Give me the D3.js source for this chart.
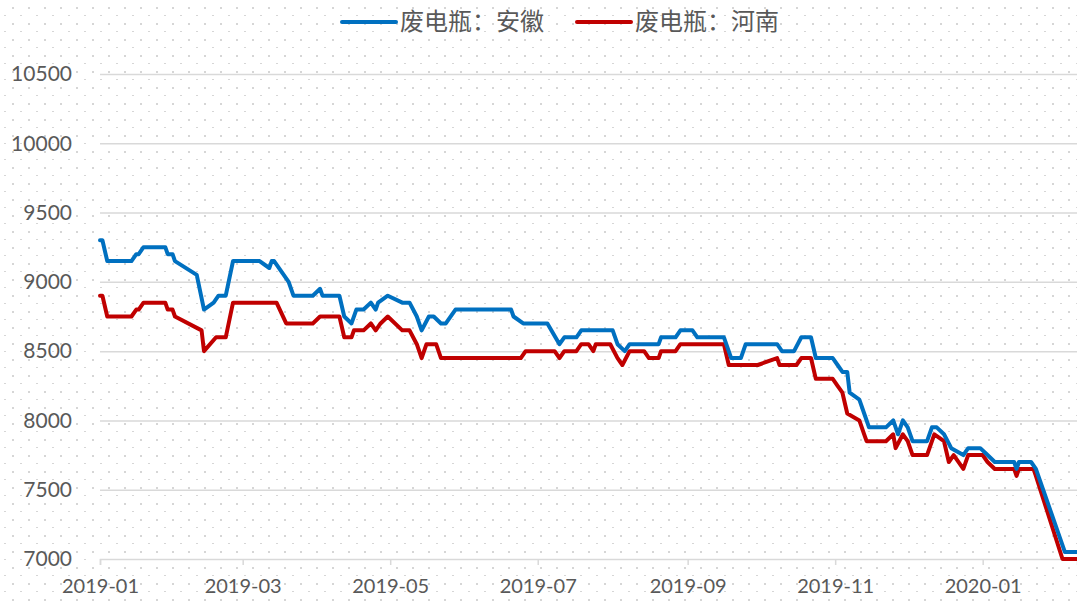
<!DOCTYPE html>
<html>
<head>
<meta charset="utf-8">
<script src="https://cdn.jsdelivr.net/npm/d3@7"></script>
<style>
  html, body { margin: 0; padding: 0; background: #fff; }
  svg { display: block; }
  .tick-label { font-family: Lato, "Liberation Sans", sans-serif; fill: #595959; }
  .legend-text { font-family: "Noto Sans CJK SC", sans-serif; fill: #595959; }
</style>
</head>
<body>
<svg id="chart"></svg>
<script>
// ── DATA ─────────────────────────────────────────────────────────────────
const seriesNames = ["废电瓶：安徽", "废电瓶：河南"];

const anhuiDates = [
  "2019-01-01","2019-01-02","2019-01-04","2019-01-14","2019-01-16","2019-01-17","2019-01-19","2019-01-28",
  "2019-01-29","2019-01-31","2019-02-01","2019-02-10","2019-02-13","2019-02-17","2019-02-19","2019-02-22",
  "2019-02-25","2019-03-08","2019-03-12","2019-03-13","2019-03-14","2019-03-20","2019-03-22","2019-03-30",
  "2019-04-02","2019-04-03","2019-04-10","2019-04-12","2019-04-15","2019-04-17","2019-04-20","2019-04-23",
  "2019-04-25","2019-04-26","2019-04-30","2019-05-06","2019-05-09","2019-05-12","2019-05-14","2019-05-17",
  "2019-05-19","2019-05-22","2019-05-24","2019-05-28","2019-06-20","2019-06-21","2019-06-25","2019-07-05",
  "2019-07-10","2019-07-12","2019-07-17","2019-07-19","2019-08-01","2019-08-03","2019-08-06","2019-08-08",
  "2019-08-20","2019-08-21","2019-08-27","2019-08-29","2019-09-03","2019-09-05","2019-09-16","2019-09-19",
  "2019-09-23","2019-09-25","2019-10-08","2019-10-10","2019-10-15","2019-10-18","2019-10-22","2019-10-24",
  "2019-10-31","2019-11-02","2019-11-04","2019-11-06","2019-11-07","2019-11-11","2019-11-13","2019-11-15",
  "2019-11-22","2019-11-25","2019-11-27","2019-11-29","2019-12-01","2019-12-03","2019-12-09","2019-12-11",
  "2019-12-13","2019-12-16","2019-12-19","2019-12-24","2019-12-26","2019-12-31","2020-01-03","2020-01-06",
  "2020-01-14","2020-01-15","2020-01-16","2020-01-21","2020-01-23","2020-02-04","2020-02-09"
];
const anhuiValues = [
  9300, 9300, 9150, 9150, 9200, 9200, 9250, 9250,
  9200, 9200, 9150, 9050, 8800, 8850, 8900, 8900,
  9150, 9150, 9100, 9150, 9150, 9000, 8900, 8900,
  8950, 8900, 8900, 8750, 8700, 8800, 8800, 8850,
  8800, 8850, 8900, 8850, 8850, 8750, 8650, 8750,
  8750, 8700, 8700, 8800, 8800, 8750, 8700, 8700,
  8550, 8600, 8600, 8650, 8650, 8550, 8500, 8550,
  8550, 8600, 8600, 8650, 8650, 8600, 8600, 8450,
  8450, 8550, 8550, 8500, 8500, 8600, 8600, 8450,
  8450, 8400, 8350, 8350, 8200, 8150, 8050, 7950,
  7950, 8000, 7900, 8000, 7950, 7850, 7850, 7950,
  7950, 7900, 7800, 7750, 7800, 7800, 7750, 7700,
  7700, 7650, 7700, 7700, 7650, 7050, 7050
];

const henanDates = [
  "2019-01-01","2019-01-02","2019-01-04","2019-01-14","2019-01-16","2019-01-17","2019-01-19","2019-01-28",
  "2019-01-29","2019-01-31","2019-02-01","2019-02-12","2019-02-13","2019-02-18","2019-02-22","2019-02-25",
  "2019-03-15","2019-03-19","2019-03-30","2019-04-02","2019-04-10","2019-04-12","2019-04-15","2019-04-16",
  "2019-04-20","2019-04-23","2019-04-25","2019-04-27","2019-04-30","2019-05-06","2019-05-09","2019-05-12",
  "2019-05-14","2019-05-16","2019-05-20","2019-05-22","2019-06-24","2019-06-26","2019-07-08","2019-07-10",
  "2019-07-12","2019-07-17","2019-07-19","2019-07-22","2019-07-24","2019-07-25","2019-07-31","2019-08-03",
  "2019-08-05","2019-08-08","2019-08-14","2019-08-16","2019-08-20","2019-08-21","2019-08-27","2019-08-29",
  "2019-09-16","2019-09-18","2019-09-30","2019-10-08","2019-10-09","2019-10-16","2019-10-18","2019-10-22",
  "2019-10-24","2019-10-31","2019-11-02","2019-11-04","2019-11-06","2019-11-11","2019-11-13","2019-11-14",
  "2019-11-22","2019-11-25","2019-11-26","2019-11-29","2019-12-01","2019-12-03","2019-12-09","2019-12-12",
  "2019-12-16","2019-12-18","2019-12-20","2019-12-24","2019-12-26","2020-01-01","2020-01-03","2020-01-06",
  "2020-01-14","2020-01-15","2020-01-16","2020-01-22","2020-01-23","2020-02-03","2020-02-09"
];
const henanValues = [
  8900, 8900, 8750, 8750, 8800, 8800, 8850, 8850,
  8800, 8800, 8750, 8650, 8500, 8600, 8600, 8850,
  8850, 8700, 8700, 8750, 8750, 8600, 8600, 8650,
  8650, 8700, 8650, 8700, 8750, 8650, 8650, 8550,
  8450, 8550, 8550, 8450, 8450, 8500, 8500, 8450,
  8500, 8500, 8550, 8550, 8500, 8550, 8550, 8450,
  8400, 8500, 8500, 8450, 8450, 8500, 8500, 8550,
  8550, 8400, 8400, 8450, 8400, 8400, 8450, 8450,
  8300, 8300, 8250, 8200, 8050, 8000, 7900, 7850,
  7850, 7900, 7800, 7900, 7850, 7750, 7750, 7900,
  7850, 7700, 7750, 7650, 7750, 7750, 7700, 7650,
  7650, 7600, 7650, 7650, 7600, 7000, 7000
];

const yTicks = [7000, 7500, 8000, 8500, 9000, 9500, 10000, 10500];
const xTickLabels = ["2019-01", "2019-03", "2019-05", "2019-07", "2019-09", "2019-11", "2020-01"];
const xDomain = ["2019-01-01", "2020-02-09"];

const COLORS = ["#0070C0", "#C00000"];

// ── DIMENSIONS ───────────────────────────────────────────────────────────
const W = 1077, H = 602;
const margin = { top: 74, right: 0, bottom: 43, left: 100 };
const innerW = W - margin.left - margin.right;
const innerH = H - margin.top - margin.bottom;

const parse = d3.timeParse("%Y-%m-%d");
const parseMonth = d3.timeParse("%Y-%m");

const svg = d3.select("#chart")
  .attr("width", W)
  .attr("height", H)
  .attr("viewBox", `0 0 ${W} ${H}`);

// dotted background
const defs = svg.append("defs");
const pat = defs.append("pattern")
  .attr("id", "dots")
  .attr("patternUnits", "userSpaceOnUse")
  .attr("width", 16).attr("height", 16);
pat.append("rect").attr("x", 12).attr("y", 7).attr("width", 2).attr("height", 2).attr("fill", "#d6d6d6");
pat.append("rect").attr("x", 4).attr("y", 15).attr("width", 2).attr("height", 2).attr("fill", "#d6d6d6");
svg.append("rect").attr("width", W).attr("height", H).attr("fill", "#fff");
svg.append("rect").attr("width", W).attr("height", H).attr("fill", "url(#dots)");

const g = svg.append("g")
  .attr("transform", `translate(${margin.left},${margin.top})`);

// ── SCALES ───────────────────────────────────────────────────────────────
const x = d3.scaleTime()
  .domain(xDomain.map(parse))
  .range([0, innerW]);

const y = d3.scaleLinear()
  .domain([7000, 10500])
  .range([innerH, 0]);

// ── GRID ─────────────────────────────────────────────────────────────────
g.append("g")
  .call(d3.axisLeft(y).tickValues(yTicks.slice(1)).tickSize(-innerW).tickFormat(""))
  .call(ax => ax.select(".domain").remove())
  .call(ax => ax.selectAll(".tick line").attr("stroke", "#d9d9d9").attr("stroke-width", 1.5));

// ── AXES ─────────────────────────────────────────────────────────────────
g.append("g")
  .call(d3.axisLeft(y).tickValues(yTicks).tickSize(0).tickPadding(28).tickFormat(d3.format("d")))
  .call(ax => ax.select(".domain").remove())
  .call(ax => ax.selectAll(".tick text")
    .attr("class", "tick-label")
    .style("font-size", "21px")
    .attr("font-family", null)
    .attr("fill", "#595959"));

g.append("g")
  .attr("transform", `translate(0,${innerH})`)
  .call(d3.axisBottom(x)
    .tickValues(xTickLabels.map(parseMonth))
    .tickSize(6)
    .tickPadding(14)
    .tickFormat(d3.timeFormat("%Y-%m")))
  .call(ax => ax.select(".domain").attr("stroke", "#d9d9d9").attr("stroke-width", 1.5))
  .call(ax => ax.selectAll(".tick line").attr("stroke", "#d9d9d9").attr("stroke-width", 1.5))
  .call(ax => ax.selectAll(".tick text")
    .attr("class", "tick-label")
    .style("font-size", "20px")
    .attr("font-family", null)
    .attr("fill", "#595959"));

// ── LINES ────────────────────────────────────────────────────────────────
const series = [
  anhuiDates.map((d, i) => ({ date: parse(d), value: anhuiValues[i] })),
  henanDates.map((d, i) => ({ date: parse(d), value: henanValues[i] }))
];

const line = d3.line()
  .x(d => x(d.date))
  .y(d => y(d.value));

// red drawn first, blue on top
[1, 0].forEach(i => {
  g.append("path")
    .datum(series[i])
    .attr("fill", "none")
    .attr("stroke", COLORS[i])
    .attr("stroke-width", 4)
    .attr("stroke-linejoin", "round")
    .attr("stroke-linecap", "round")
    .attr("d", line);
});

// ── LEGEND ───────────────────────────────────────────────────────────────
const legendX = [342, 577];
const legend = svg.append("g").attr("transform", "translate(0,22)");
seriesNames.forEach((name, i) => {
  const item = legend.append("g").attr("transform", `translate(${legendX[i]},0)`);
  item.append("line")
    .attr("x1", 0).attr("x2", 54)
    .attr("stroke", COLORS[i])
    .attr("stroke-width", 4)
    .attr("stroke-linecap", "round");
  item.append("text")
    .attr("class", "legend-text")
    .attr("x", 58)
    .attr("dy", "0.35em")
    .style("font-size", "24px")
    .text(name);
});
</script>
</body>
</html>
